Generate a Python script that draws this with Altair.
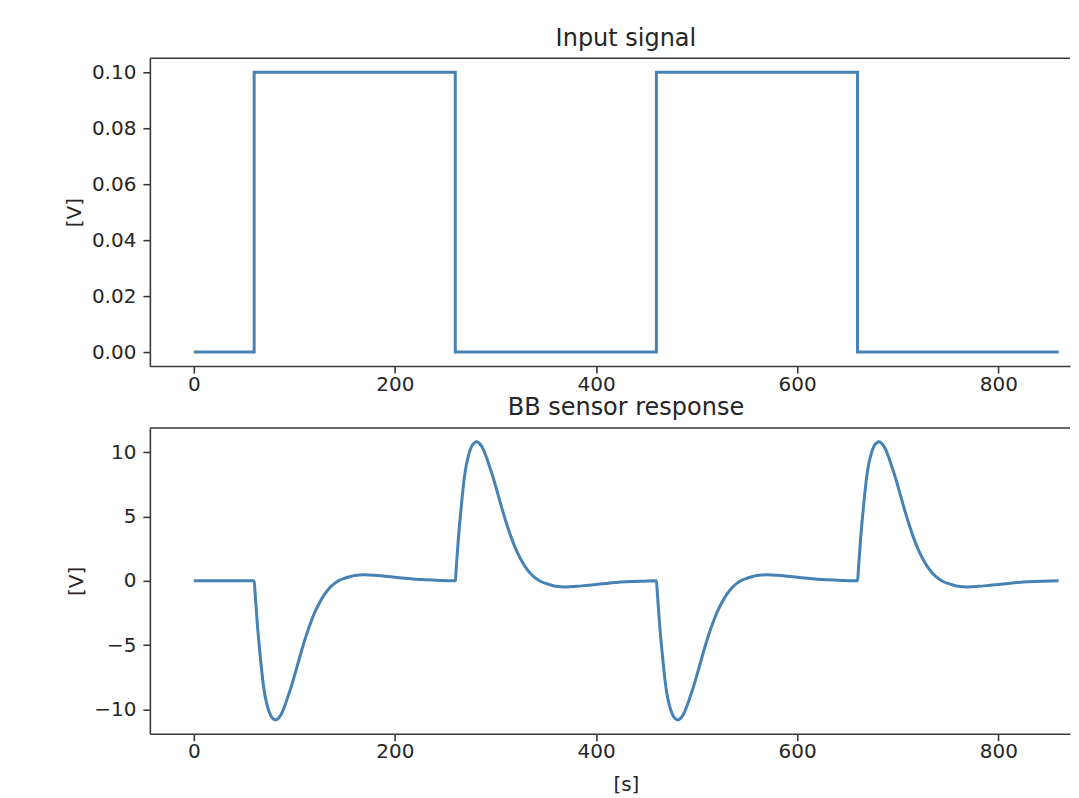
import altair as alt
import pandas as pd

# ---- Input signal: square wave corners (time [s], value [V]) ----
input_t = [0, 60, 60, 260, 260, 460, 460, 660, 660, 860]
input_v = [0.0, 0.0, 0.1, 0.1, 0.0, 0.0, 0.1, 0.1, 0.0, 0.0]

# ---- BB sensor response: response to one edge ----
edge_times = [60, 260, 460, 660]
edge_signs = [-1, 1, -1, 1]
resp_tau = [0, 1, 3, 5, 7, 9, 11, 13, 15, 17, 19, 21, 23, 25, 28, 31, 34, 37, 40,
            44, 48, 52, 56, 60, 65, 70, 75, 80, 85, 90, 95, 100, 105, 110, 120,
            130, 140, 150, 160, 170, 185, 200]
resp_mag = [0.0, 1.0, 3.2, 5.0, 6.6, 8.0, 9.0, 9.7, 10.2, 10.55, 10.72, 10.8,
            10.75, 10.6, 10.2, 9.6, 8.9, 8.2, 7.4, 6.3, 5.2, 4.2, 3.3, 2.5, 1.7,
            1.05, 0.55, 0.2, -0.05, -0.2, -0.32, -0.42, -0.46, -0.47, -0.43,
            -0.36, -0.28, -0.2, -0.13, -0.08, -0.03, 0.0]

x_ticks = [0, 200, 400, 600, 800]
top_ticks = [0.0, 0.02, 0.04, 0.06, 0.08, 0.10]
bottom_ticks = [-10, -5, 0, 5, 10]

# build tables
top_df = pd.DataFrame({"t": input_t, "v": input_v, "i": range(len(input_t))})
rt, rv = [0], [0.0]
for e, s in zip(edge_times, edge_signs):
    for tau, m in zip(resp_tau, resp_mag):
        if tau == 0 and rt[-1] == e:
            continue
        rt.append(e + tau)
        rv.append(s * m)
bot_df = pd.DataFrame({"t": rt, "v": rv, "i": range(len(rt))})
spine_df = pd.DataFrame({"k": [0]})

LINE = "#4682b4"
TXT = "#262626"
SPINE = "#3a3a3a"
FONT = "DejaVu Sans"

xscale = alt.Scale(domain=[-43.7, 871.3], nice=False, zero=False)


def top_spine():
    return alt.Chart(spine_df).mark_rule(color=SPINE, strokeWidth=1.6).encode(
        y=alt.value(0)
    )


top_line = alt.Chart(top_df).mark_line(color=LINE, strokeWidth=3).encode(
    x=alt.X("t:Q", scale=xscale,
            axis=alt.Axis(values=x_ticks, format="d", title=None, labelPadding=1)),
    y=alt.Y("v:Q", scale=alt.Scale(domain=[-0.005, 0.105], nice=False, zero=False),
            axis=alt.Axis(values=top_ticks, format=".2f", title="[V]")),
    order="i:Q",
)

top = alt.layer(top_line, top_spine()).properties(
    width=921, height=308,
    title=alt.TitleParams("Input signal", fontSize=24, font=FONT, fontWeight="normal",
                          color=TXT, offset=-12, baseline="alphabetic", dx=16),
)

bottom_line = alt.Chart(bot_df).mark_line(
    color=LINE, strokeWidth=3, interpolate="monotone"
).encode(
    x=alt.X("t:Q", scale=xscale,
            axis=alt.Axis(values=x_ticks, format="d", title="[s]", titleX=476.5,
                          labelPadding=1, titlePadding=13)),
    y=alt.Y("v:Q", scale=alt.Scale(domain=[-11.88, 11.88], nice=False, zero=False),
            axis=alt.Axis(values=bottom_ticks, format="d", title="[V]")),
    order="i:Q",
)

bottom = alt.layer(bottom_line, top_spine()).properties(
    width=921, height=306,
    title=alt.TitleParams("BB sensor response", fontSize=24, font=FONT, fontWeight="normal",
                          color=TXT, offset=-12, baseline="alphabetic", dx=16),
)

chart = alt.vconcat(top, bottom, spacing=62, bounds="flush").properties(
    padding={"left": 56, "top": 18, "right": 0, "bottom": 0},
    background="white",
).configure_view(
    stroke=None
).configure_axis(
    grid=False, domain=True, domainColor=SPINE, domainWidth=1.6,
    tickColor=SPINE, tickWidth=1.6, tickSize=7,
    labelPadding=7, labelFontSize=20, labelFont=FONT, labelColor=TXT,
    titleFontSize=20, titleFont=FONT, titleFontWeight="normal", titleColor=TXT,
    titlePadding=7,
)

chart.save("out.html", embed_options={"renderer": "svg", "actions": False})
